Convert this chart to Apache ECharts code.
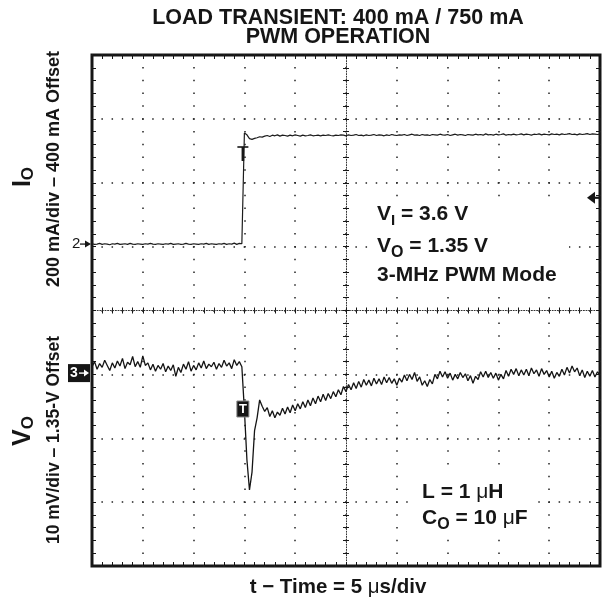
<!DOCTYPE html>
<html>
<head>
<meta charset="utf-8">
<script src="https://cdn.jsdelivr.net/npm/echarts@6/dist/echarts.min.js"></script>
<style>
  html, body { margin: 0; padding: 0; background: #fff; }
  #chart { width: 606px; height: 604px; }
</style>
</head>
<body>
<div id="chart"></div>
<script>
// scope record: one sample every 0.25 us, 50 us across the screen (5 us/div)
const sampleStepUs = 0.25

// channel 2: load current, mA
const ioMilliamps = [
  401, 399, 400, 402, 399, 401, 400, 398, 401, 400,
  402, 399, 400, 401, 399, 402, 400, 399, 401, 400,
  399, 401, 400, 402, 400, 399, 401, 400, 399, 401,
  400, 402, 399, 400, 401, 399, 400, 402, 400, 399,
  401, 400, 399, 401, 400, 402, 399, 401, 400, 399,
  401, 400, 402, 399, 401, 400, 403, 399, 402, 401,
  748, 742, 730, 728, 731, 733, 736, 735, 738, 740,
  737, 741, 739, 742, 738, 741, 740, 738, 741, 739,
  742, 740, 738, 741, 739, 740, 742, 739, 740, 741,
  739, 741, 740, 742, 740, 739, 741, 740, 742, 741,
  739, 742, 740, 741, 743, 740, 741, 739, 742, 740,
  741, 743, 740, 742, 741, 739, 742, 740, 743, 741,
  740, 742, 741, 743, 740, 742, 744, 741, 742, 740,
  743, 741, 742, 740, 743, 742, 741, 744, 742, 741,
  743, 740, 742, 744, 741, 743, 742, 740, 743, 742,
  741, 744, 742, 743, 741, 745, 742, 743, 741, 744,
  742, 743, 745, 741, 743, 742, 744, 742, 743, 745,
  742, 744, 743, 741, 744, 743, 745, 742, 744, 743,
  742, 745, 743, 744, 742, 745, 743, 744, 746, 743,
  744, 742, 745, 743, 744, 746, 743, 745, 744, 743,
  744
]

// channel 3: output voltage, mV away from 1.35 V
const voDeltaMillivolts = [
  1.0, 1.8, 0.6, 1.5, 0.9, 2.0, 1.2, 0.4, 1.6, 0.8,
  1.9, 1.1, 2.3, 0.7, 1.7, 1.3, 2.6, 1.0, 1.8, 0.9,
  2.7, 1.2, 1.6, 0.5, 1.4, 0.3, 1.2, 0.6, 1.5, 0.2,
  1.1, 0.4, 1.3, -0.5, 0.9, 0.1, 1.4, 0.6, 1.8, 0.3,
  1.2, 0.5, 1.6, 0.8, 1.9, 0.7, 1.4, 1.0, 1.7, 0.6,
  1.5, 0.9, 2.0, 1.1, 1.6, 0.7, 2.1, 1.2, 1.8, 1.0,
  -5.8, -13.6, -18.3, -15.5, -9.0, -7.0, -4.2, -5.2, -6.0, -5.4,
  -6.8, -5.9, -7.0, -6.1, -6.6, -5.5, -6.4, -5.3, -6.2, -5.0,
  -5.9, -4.8, -5.6, -4.5, -5.4, -4.2, -5.1, -3.9, -4.8, -3.6,
  -4.5, -3.3, -4.3, -3.2, -4.0, -2.9, -3.7, -2.6, -3.4, -2.1,
  -2.9, -1.8, -2.6, -1.5, -2.4, -1.3, -2.2, -1.0, -1.9, -1.1,
  -2.0, -0.8, -1.7, -0.9, -1.8, -0.6, -1.5, -0.7, -1.6, -0.9,
  -1.9, -0.8, -1.4, -0.3, -1.2, -0.2, -1.0, 0.1, -1.3, -0.6,
  -1.9, -1.2, -2.1, -1.0, -1.7, -0.2, -0.9, 0.3, -0.6, 0.2,
  -0.8, 0.0, -1.1, -0.2, -0.9, 0.1, -0.7, -0.1, -1.2, -0.4,
  -1.6, -0.5, -1.0, 0.2, -0.6, 0.3, -0.7, 0.1, -0.8, 0.0,
  -1.1, -0.2, -0.9, 0.4, -0.5, 0.6, -0.2, 0.7, -0.4, 0.5,
  -0.3, 0.6, -0.4, 0.8, -0.1, 0.5, -0.5, 0.7, -0.2, 0.4,
  -0.6, 0.3, -0.8, 0.1, -0.5, 0.6, -0.3, 0.9, 0.0, 1.1,
  0.2, 0.8, -0.4, 0.5, -0.7, 0.3, -0.5, 0.4, -0.6, 0.2,
  -0.3
]

// screen: 10 x 8 divisions, channel reference markers in divisions from centre
const IO_OFFSET_MA = 400
const IO_MA_PER_DIV = 200
const IO_MARK_DIV = 1.04
const VO_MV_PER_DIV = 10
const VO_MARK_DIV = -0.98
const TRIG_TIME_US = 14.85
const TRIG_LEVEL_MA = 545

const titleLines = ['LOAD TRANSIENT: 400 mA / 750 mA', 'PWM OPERATION']
const ioUnitText = '200 mA/div \u2013 400 mA Offset'
const voUnitText = '10 mV/div \u2013 1.35-V Offset'

const INK = '#161616'
const FONT = '"Liberation Sans", Arial, Helvetica, sans-serif'

const ioSeries = ioMilliamps.map((v, i) => [i * sampleStepUs, IO_MARK_DIV + (v - IO_OFFSET_MA) / IO_MA_PER_DIV])
const voSeries = voDeltaMillivolts.map((v, i) => [i * sampleStepUs, VO_MARK_DIV + v / VO_MV_PER_DIV])

const chart = echarts.init(document.getElementById('chart'))

const tickStyle = { color: INK, width: 1 }
function scaleAxis(min, max, interval, extra) {
  return Object.assign({
    type: 'value',
    min, max, interval,
    axisLine: { show: false, onZero: false },
    axisLabel: { show: false },
    axisTick: { show: true, inside: true, length: 4, lineStyle: tickStyle },
    minorTick: { show: true, splitNumber: 5, length: 4, lineStyle: tickStyle },
    splitLine: { show: false }
  }, extra)
}
const centreLine = { show: true, onZero: false, lineStyle: { color: '#333', width: 1, type: [1, 1.6] } }
const shortIn = { show: true, inside: true, length: 3, lineStyle: tickStyle }
const shortOut = { show: true, inside: false, length: 3, lineStyle: tickStyle }
const shortMinor = { show: true, splitNumber: 5, length: 3, lineStyle: tickStyle }

chart.setOption({
  animation: false,
  backgroundColor: '#fff',
  grid: {
    left: 92, top: 55, width: 508, height: 511,
    show: true, borderColor: INK, borderWidth: 3, backgroundColor: 'transparent',
    outerBoundsMode: 'none'
  },
  xAxis: [
    scaleAxis(0, 50, 5, {
      position: 'bottom',
      splitLine: { show: true, lineStyle: { color: '#222', width: 1.5, type: [1.5, 11.275], dashOffset: 0.75 } }
    }),
    scaleAxis(0, 50, 5, { position: 'top' }),
    scaleAxis(0, 50, 5, { position: 'bottom', offset: -255.5, axisLine: centreLine, axisTick: shortIn, minorTick: shortMinor }),
    scaleAxis(0, 50, 5, { position: 'bottom', offset: -255.5, axisTick: shortOut, minorTick: shortMinor })
  ],
  yAxis: [
    scaleAxis(-4, 4, 1, {
      position: 'left',
      splitLine: { show: true, lineStyle: { color: '#222', width: 1.5, type: [1.5, 8.66], dashOffset: 0.75 } }
    }),
    scaleAxis(-4, 4, 1, { position: 'right' }),
    scaleAxis(-4, 4, 1, { position: 'left', offset: -254, axisLine: centreLine, axisTick: shortIn, minorTick: shortMinor }),
    scaleAxis(-4, 4, 1, { position: 'left', offset: -254, axisTick: shortOut, minorTick: shortMinor })
  ],
  series: [
    {
      name: 'IO', type: 'line', xAxisIndex: 0, yAxisIndex: 0,
      showSymbol: false, silent: true,
      lineStyle: { color: '#1c1c1c', width: 1.2 },
      data: ioSeries
    },
    {
      name: 'VO', type: 'line', xAxisIndex: 0, yAxisIndex: 0,
      showSymbol: false, silent: true,
      lineStyle: { color: '#141414', width: 1.3 },
      data: voSeries
    }
  ]
})

// text runs with sub-scripts, laid out by measuring each piece
const measure = document.createElement('canvas').getContext('2d')
function textLine(x, y, parts, align, rotation, fill) {
  let run = 0
  const children = parts.map(([text, size, weight, dy]) => {
    const font = `${weight} ${size}px ${FONT}`
    measure.font = font
    const el = {
      type: 'text', x: run, y: dy || 0, z: 10,
      style: { text, font, fill: fill || INK, align: 'left', verticalAlign: 'middle' }
    }
    run += measure.measureText(text).width
    return el
  })
  if (align === 'center') children.forEach(c => { c.x -= run / 2 })
  return { type: 'group', x, y, rotation: rotation || 0, z: 10, children }
}

const toPx = (t, d) => chart.convertToPixel({ xAxisIndex: 0, yAxisIndex: 0 }, [t, d])
const [trigX, ioMarkY] = toPx(TRIG_TIME_US, IO_MARK_DIV)
const voMarkY = toPx(0, VO_MARK_DIV)[1]
const trigLevelY = toPx(0, IO_MARK_DIV + (TRIG_LEVEL_MA - IO_OFFSET_MA) / IO_MA_PER_DIV)[1]
const right = toPx(50, 0)[0]

const graphic = [
  // blank panels behind the notes
  { type: 'rect', z: 5, shape: { x: 369, y: 203, width: 200, height: 90 }, style: { fill: '#fff' } },
  { type: 'rect', z: 5, shape: { x: 408, y: 467, width: 129, height: 70 }, style: { fill: '#fff' } },

  textLine(338, 18, [[titleLines[0], 21.5, 'bold']], 'center'),
  textLine(338, 37.5, [[titleLines[1], 21.5, 'bold']], 'center'),
  textLine(338, 587, [['t \u2212 Time = 5 ', 20.5, 'bold'], ['\u03bc', 20.5, 'normal'], ['s/div', 20.5, 'bold']], 'center'),

  textLine(23, 177, [['I', 25, 'bold'], ['O', 17, 'bold', 5]], 'center', Math.PI / 2),
  textLine(54, 169, [[ioUnitText, 18, 'bold']], 'center', Math.PI / 2),
  textLine(23, 431, [['V', 25, 'bold'], ['O', 17, 'bold', 5]], 'center', Math.PI / 2),
  textLine(54, 440, [[voUnitText, 17.5, 'bold']], 'center', Math.PI / 2),

  textLine(377, 214.5, [['V', 21, 'bold'], ['I', 15, 'bold', 6], [' = 3.6 V', 21, 'bold']]),
  textLine(377, 246.5, [['V', 21, 'bold'], ['O', 16, 'bold', 6], [' = 1.35 V', 21, 'bold']]),
  textLine(377, 275.5, [['3-MHz PWM Mode', 21, 'bold']]),
  textLine(422, 492, [['L = 1 ', 21, 'bold'], ['\u03bc', 21, 'normal'], ['H', 21, 'bold']]),
  textLine(422, 518.5, [['C', 21, 'bold'], ['O', 16, 'bold', 6], [' = 10 ', 21, 'bold'], ['\u03bc', 21, 'normal'], ['F', 21, 'bold']]),

  // channel 2 reference marker
  textLine(72, ioMarkY, [['2', 15, 'normal']]),
  { type: 'line', z: 10, shape: { x1: 80, y1: ioMarkY, x2: 88, y2: ioMarkY }, style: { stroke: INK, lineWidth: 1.3 } },
  { type: 'polygon', z: 10, shape: { points: [[91, ioMarkY], [85, ioMarkY - 3.5], [85, ioMarkY + 3.5]] }, style: { fill: INK } },

  // channel 3 reference marker
  { type: 'rect', z: 10, shape: { x: 68, y: voMarkY - 9, width: 22, height: 18 }, style: { fill: INK } },
  textLine(70, voMarkY, [['3', 14, 'bold']], 'left', 0, '#fff'),
  { type: 'line', z: 11, shape: { x1: 79, y1: voMarkY, x2: 86, y2: voMarkY }, style: { stroke: '#fff', lineWidth: 1.4 } },
  { type: 'polygon', z: 11, shape: { points: [[89, voMarkY], [84, voMarkY - 3.5], [84, voMarkY + 3.5]] }, style: { fill: '#fff' } },

  // trigger point markers
  { type: 'line', z: 10, shape: { x1: trigX - 5.5, y1: 147, x2: trigX + 5.5, y2: 147 }, style: { stroke: INK, lineWidth: 1.6 } },
  { type: 'line', z: 10, shape: { x1: trigX, y1: 147, x2: trigX, y2: 161 }, style: { stroke: INK, lineWidth: 2.6 } },
  { type: 'rect', z: 10, shape: { x: trigX - 6, y: 401, width: 12, height: 16 }, style: { fill: INK, stroke: '#888', lineWidth: 1 } },
  textLine(trigX, 409.5, [['T', 13, 'bold']], 'center', 0, '#fff'),

  // trigger level marker
  { type: 'polygon', z: 10, shape: { points: [[right - 13, trigLevelY], [right - 5, trigLevelY - 6], [right - 5, trigLevelY + 6]] }, style: { fill: INK } },
  { type: 'line', z: 10, shape: { x1: right - 6, y1: trigLevelY, x2: right, y2: trigLevelY }, style: { stroke: INK, lineWidth: 2.2 } }
]

chart.setOption({ graphic })
</script>
</body>
</html>
